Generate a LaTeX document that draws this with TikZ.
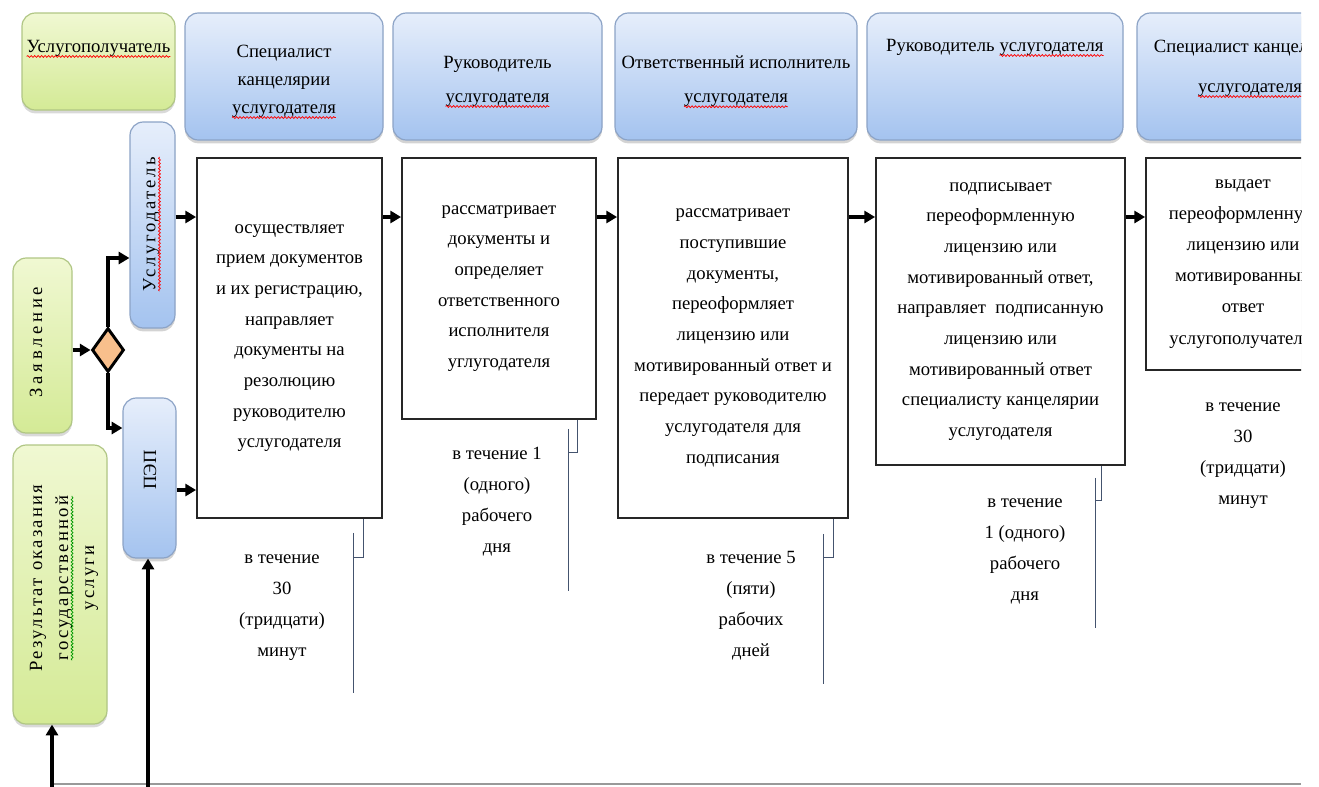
\documentclass[tikz,border=0pt]{standalone}
\usepackage{fontspec}
\setmainfont{Liberation Serif}
\usetikzlibrary{arrows.meta,shapes.geometric,shadows,calc,decorations.pathmorphing}

\definecolor{hdtop}{HTML}{E6EEFB}
\definecolor{hdbot}{HTML}{A4C3EF}
\definecolor{hdline}{HTML}{8CA3C6}
\definecolor{grtop}{HTML}{F0F8D2}
\definecolor{grbot}{HTML}{D4EA96}
\definecolor{grline}{HTML}{B0C684}
\definecolor{peach}{HTML}{F8BF8C}
\definecolor{brk}{HTML}{44536E}

% spell-check style wavy underline under a word
\newcommand\sqw[2][red]{\tikz[baseline=(w.base),x=1pt,y=1pt]{%
  \node[inner sep=0pt,outer sep=0pt,draw=none,fill=none,shape=rectangle,
    minimum width=0pt,minimum height=0pt](w){#2};
  \draw[#1,line width=0.55pt,decorate,decoration={snake,amplitude=0.7pt,segment length=2.6pt}]
    ([yshift=-3pt]w.base west)--([yshift=-3pt]w.base east);}}

\newcommand\txtA{\fontsize{14}{23}\selectfont}
\newcommand\txtT{\fontsize{14}{23.3}\selectfont}

\begin{document}
\begin{tikzpicture}[x=0.75pt,y=-0.75pt,
  sz/.style 2 args={minimum width=#1*0.75pt, minimum height=#2*0.75pt, inner sep=0pt},
  bluebox/.style={draw=hdline, line width=0.9pt, top color=hdtop, bottom color=hdbot,
    rounded corners=10pt, drop shadow={opacity=0.35, shadow xshift=0pt, shadow yshift=-2.5pt}},
  greenbox/.style={draw=grline, line width=0.9pt, top color=grtop, bottom color=grbot,
    rounded corners=10pt, drop shadow={opacity=0.3, shadow xshift=0pt, shadow yshift=-2.5pt}},
  procbox/.style={draw=black!85, line width=1.4pt, fill=white,
    drop shadow={opacity=0.18, shadow xshift=1pt, shadow yshift=-1pt},
    align=center, font=\txtA},
  lbl/.style={align=center, font=\txtA},
  tlbl/.style={align=center, font=\txtT},
  arr/.style={line width=2.5pt, black, -{Triangle[length=8pt,width=9pt]}},
  bracket/.style={draw=brk, line width=0.8pt}
]
\useasboundingbox (0,0) rectangle (1319,786);
\begin{scope}
\clip (0,0) rectangle (1301,786);

% column headers
\node[greenbox, sz={153}{97}] (client) at (98.5,61.5) {};
\node[lbl] (clientt) at (98.5,49) {\sqw{Услугополучатель}};

\node[bluebox, sz={198}{127}] (h1) at (284,76.5) {};
\node[align=center, font=\fontsize{14}{21}\selectfont] (h1t) at (284,82)
  {Специалист\\канцелярии\\\sqw{услугодателя}};
\node[bluebox, sz={209}{127}] (h2) at (497.5,76.5) {};
\node[align=center, font=\fontsize{14}{25.5}\selectfont] (h2t) at (497.5,82)
  {Руководитель\\\sqw{услугодателя}};
\node[bluebox, sz={242}{127}] (h3) at (736,76.5) {};
\node[align=center, font=\fontsize{14}{25.5}\selectfont] (h3t) at (736,82)
  {Ответственный исполнитель\\\sqw{услугодателя}};
\node[bluebox, sz={256}{127}] (h4) at (995,76.5) {};
\node[lbl] (h4t) at (995,48) {Руководитель \sqw{услугодателя}};
\node[bluebox, sz={213}{127}] (h5) at (1243.5,76.5) {};
\node[align=center, font=\fontsize{14}{30}\selectfont] (h5t) at (1250,69)
  {Специалист канцелярии\\\sqw{услугодателя}};

% left lanes
\node[bluebox, sz={45}{206}] (prov) at (152.5,225) {};
\node[rotate=90, font=\txtA\addfontfeatures{LetterSpace=14}] (provt) at (152,224) {\sqw{Услугодатель}};
\node[bluebox, sz={53}{160}] (pep) at (149.5,478) {};
\node[rotate=90, font=\txtA] (pept) at (150,470) {ПЭП};
\node[greenbox, sz={59}{175}] (zayav) at (42.5,345.5) {};
\node[rotate=90, font=\txtA\addfontfeatures{LetterSpace=20}] (zayavt) at (36,342) {Заявление};
\node[greenbox, sz={94}{279}] (res) at (60,584.5) {};
\node[rotate=90, align=center, font=\fontsize{14}{19.5}\selectfont\addfontfeatures{LetterSpace=12}] (rest) at (64,578)
  {Результат оказания\\\sqw[green!60!black]{государственной}\\услуги};

\node[diamond, draw=black, line width=2.2pt, fill=peach, minimum width=32*0.75pt,
  minimum height=44*0.75pt, inner sep=0pt] (dia) at (108,350) {};

% process steps
\node[procbox, sz={185}{360}] (b1) at (289.5,338)
  {осуществляет\\прием документов\\и их регистрацию,\\направляет\\документы на\\резолюцию\\руководителю\\услугодателя};
\node[procbox, sz={194}{261}] (b2) at (499,288.5)
  {рассматривает\\документы и\\определяет\\ответственного\\исполнителя\\углугодателя};
\node[procbox, sz={230}{360}] (b3) at (733,338)
  {рассматривает\\поступившие\\документы,\\переоформляет\\лицензию или\\мотивированный ответ и\\передает руководителю\\услугодателя для\\подписания};
\node[procbox, sz={249}{307}] (b4) at (1000.5,311.5)
  {подписывает\\переоформленную\\лицензию или\\мотивированный ответ,\\направляет~ подписанную\\лицензию или\\мотивированный ответ\\специалисту канцелярии\\услугодателя};
\node[procbox, sz={194}{212}, font=\fontsize{14}{23.3}\selectfont] (b5) at (1243,264)
  {выдает\\переоформленную\\лицензию или\\мотивированный\\ответ\\услугополучателю};

% durations
\node[tlbl] (t1) at (282,608) {в течение\\30\\(тридцати)\\минут};
\node[tlbl] (t2) at (497,502) {в течение 1\\(одного)\\рабочего\\дня};
\node[tlbl] (t3) at (751,606) {в течение 5\\(пяти)\\рабочих\\дней};
\node[tlbl] (t4) at (1025,551) {в течение\\1 (одного)\\рабочего\\дня};
\node[tlbl] (t5) at (1243,456) {в течение\\30\\(тридцати)\\минут};

\draw[bracket] (b1.south east) ++(-19,0) -- ++(0,39) -- ++(-10,0);
\draw[bracket] (b1.south east) ++(-29,14) -- ++(0,160);
\draw[bracket] (b2.south east) ++(-19,0) -- ++(0,33) -- ++(-9,0);
\draw[bracket] (b2.south east) ++(-28,9) -- ++(0,162);
\draw[bracket] (b3.south east) ++(-15,0) -- ++(0,39) -- ++(-10,0);
\draw[bracket] (b3.south east) ++(-25,15) -- ++(0,150);
\draw[bracket] (b4.south east) ++(-24,0) -- ++(0,35) -- ++(-6,0);
\draw[bracket] (b4.south east) ++(-30,12) -- ++(0,150);

% connectors
\coordinate (r) at (0,217);
\coordinate (rp) at (0,490);
\coordinate (j1) at (108,258);
\coordinate (j2) at (108,428);
\coordinate (f1) at (52,792);
\coordinate (f2) at (148,792);
\coordinate (g0) at (50,784);
\coordinate (g1) at (1301,784);

\draw[gray!80, line width=1.5pt] (g0) -- (g1);

\draw[arr] (dia.west -| zayav.east) -- (dia.west);
\draw[arr] (dia.north) -- (j1) -- (j1 -| prov.west);
\draw[arr] (dia.south) -- (j2) -- (j2 -| pep.west);
\draw[arr] (prov.east |- r) -- (b1.west |- r);
\draw[arr] (pep.east |- rp) -- (b1.west |- rp);
\draw[arr] (b1.east |- r) -- (b2.west |- r);
\draw[arr] (b2.east |- r) -- (b3.west |- r);
\draw[arr] (b3.east |- r) -- (b4.west |- r);
\draw[arr] (b4.east |- r) -- (b5.west |- r);
\draw[arr] (f1) -- (f1 |- res.south);
\draw[arr] (f2) -- (f2 |- pep.south);

\end{scope}
\end{tikzpicture}
\end{document}
